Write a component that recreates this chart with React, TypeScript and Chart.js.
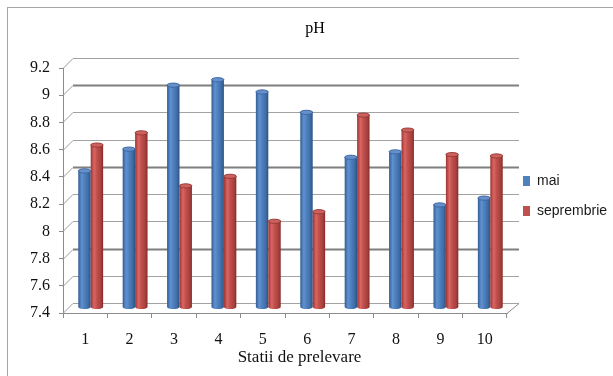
import React, { useEffect, useRef } from 'react';
import { Chart, registerables } from 'chart.js';

Chart.register(...registerables);

// Sampling stations and pH readings for the two campaigns
const stations = ['1', '2', '3', '4', '5', '6', '7', '8', '9', '10'];
const seriesNames = ['mai', 'seprembrie'];
const maiValues = [8.4, 8.56, 9.03, 9.07, 8.98, 8.83, 8.5, 8.54, 8.15, 8.2];
const septValues = [8.59, 8.68, 8.29, 8.36, 8.03, 8.1, 8.81, 8.7, 8.52, 8.51];
const yTicks = [7.4, 7.6, 7.8, 8, 8.2, 8.4, 8.6, 8.8, 9, 9.2];
const chartTitle = 'pH';
const xAxisTitle = 'Statii de prelevare';

// Styling
const SERIF = "'Liberation Serif', 'Times New Roman', serif";
const SANS = "'Liberation Sans', Arial, sans-serif";
const AXIS_COLOR = '#8c8c8c';
const WALL_DEPTH = { dx: 10, dy: -10 };
const BAR_DEPTH = { dx: 5.5, dy: -6 };
const strongGrid = [9, 8.4, 7.8];

const palette = {
  mai: {
    legend: '#4f81bd',
    body: ['#335d94', '#5f91d2', '#4f81bd', '#3f6ca6', '#2b5183'],
    cap: '#6690c9',
    rim: '#37619b',
  },
  sept: {
    legend: '#c0504d',
    body: ['#9a3633', '#db6663', '#c0504d', '#a9413e', '#852c29'],
    cap: '#cc615e',
    rim: '#8e3431',
  },
};

function drawCylinder(
  ctx: CanvasRenderingContext2D,
  cx: number,
  top: number,
  bottom: number,
  w: number,
  look: { body: string[]; cap: string; rim: string }
) {
  const rx = w / 2;
  const ry = Math.max(1.5, w * 0.17);
  const left = cx - rx;
  const right = cx + rx;
  const g = ctx.createLinearGradient(left, 0, right, 0);
  const stops = [0, 0.28, 0.5, 0.8, 1];
  look.body.forEach((c, i) => g.addColorStop(stops[i], c));
  ctx.beginPath();
  ctx.moveTo(left, top);
  ctx.lineTo(left, bottom);
  ctx.ellipse(cx, bottom, rx, ry, 0, Math.PI, 0, true);
  ctx.lineTo(right, top);
  ctx.ellipse(cx, top, rx, ry, 0, 0, Math.PI, true);
  ctx.closePath();
  ctx.fillStyle = g;
  ctx.fill();

  ctx.beginPath();
  ctx.ellipse(cx, top, rx, ry, 0, 0, Math.PI * 2);
  ctx.fillStyle = look.cap;
  ctx.fill();
  ctx.lineWidth = 0.8;
  ctx.strokeStyle = look.rim;
  ctx.stroke();
}

// White background and the thin outer frame
const framePlugin = {
  id: 'frame',
  beforeDraw(chart: any) {
    const { ctx, width, height } = chart;
    ctx.save();
    ctx.fillStyle = '#ffffff';
    ctx.fillRect(0, 0, width, height);
    ctx.strokeStyle = '#a6a6a6';
    ctx.lineWidth = 1;
    ctx.strokeRect(7.5, 7.5, width + 40, height + 40);
    ctx.restore();
  },
};

// Back wall gridlines, side wall diagonals and the floor edge
const wallPlugin = {
  id: 'wall',
  beforeDatasetsDraw(chart: any) {
    const { ctx, chartArea: ca, scales } = chart;
    const y = scales.y;
    ctx.save();
    yTicks.forEach((v) => {
      const py = Math.round(y.getPixelForValue(v)) + 0.5;
      const strong = strongGrid.includes(v);
      ctx.beginPath();
      ctx.moveTo(ca.left, py);
      ctx.lineTo(ca.left + WALL_DEPTH.dx, py + WALL_DEPTH.dy);
      ctx.strokeStyle = '#9c9c9c';
      ctx.lineWidth = 1;
      ctx.stroke();
      ctx.beginPath();
      ctx.moveTo(ca.left + WALL_DEPTH.dx, py + WALL_DEPTH.dy);
      ctx.lineTo(ca.right + WALL_DEPTH.dx + 2, py + WALL_DEPTH.dy);
      ctx.strokeStyle = strong ? '#7f7f7f' : '#a3a3a3';
      ctx.lineWidth = strong ? 2 : 1.2;
      ctx.stroke();
    });
    const fy = Math.round(ca.bottom) + 0.5;
    ctx.beginPath();
    ctx.moveTo(ca.right, fy);
    ctx.lineTo(ca.right + WALL_DEPTH.dx + 2, fy + WALL_DEPTH.dy);
    ctx.strokeStyle = AXIS_COLOR;
    ctx.lineWidth = 1;
    ctx.stroke();
    ctx.restore();
  },
};

// Bars are rendered as shaded cylinders at mid depth, standing on the axis minimum
const cylinderPlugin = {
  id: 'cylinders',
  beforeDatasetDraw() {
    return false;
  },
  afterDatasetsDraw(chart: any) {
    const { ctx, scales } = chart;
    const floor = scales.y.getPixelForValue(scales.y.min);
    const looks = [palette.mai, palette.sept];
    ctx.save();
    stations.forEach((_, i) => {
      chart.data.datasets.forEach((_ds: any, di: number) => {
        const bar = chart.getDatasetMeta(di).data[i];
        if (!bar) return;
        const cx = bar.x + BAR_DEPTH.dx;
        drawCylinder(ctx, cx, bar.y + BAR_DEPTH.dy, floor + BAR_DEPTH.dy, bar.width, looks[di]);
      });
    });
    ctx.restore();
  },
};

// Category axis caption
const axisTitlePlugin = {
  id: 'axisTitle',
  afterDraw(chart: any) {
    const { ctx } = chart;
    ctx.save();
    ctx.font = `17px ${SERIF}`;
    ctx.fillStyle = '#111111';
    ctx.textAlign = 'center';
    ctx.textBaseline = 'alphabetic';
    ctx.fillText(xAxisTitle, 299.5, 362);
    ctx.restore();
  },
};

export default function App() {
  const ref = useRef<HTMLCanvasElement>(null);

  useEffect(() => {
    if (!ref.current) return;
    const chart = new Chart(ref.current, {
      type: 'bar',
      data: {
        labels: stations,
        datasets: [
          {
            label: seriesNames[0],
            data: maiValues,
            backgroundColor: palette.mai.legend,
            borderWidth: 0,
          },
          {
            label: seriesNames[1],
            data: septValues,
            backgroundColor: palette.sept.legend,
            borderWidth: 0,
          },
        ],
      },
      options: {
        responsive: false,
        animation: false,
        devicePixelRatio: 1,
        layout: { padding: { left: 17, right: 0, top: 0, bottom: 0 } },
        datasets: {
          bar: { categoryPercentage: 0.56, barPercentage: 1 },
        },
        plugins: {
          title: {
            display: true,
            text: chartTitle,
            color: '#000000',
            font: { family: SERIF, size: 16, weight: 'normal' },
            padding: { top: 19.4, bottom: 29.4 },
          },
          legend: {
            position: 'right',
            maxWidth: 106,
            title: { display: true, text: '', padding: 0, font: { size: 16, lineHeight: 1 } },
            labels: {
              boxWidth: 7,
              boxHeight: 10,
              padding: 16,
              color: '#1a1a1a',
              font: { family: SANS, size: 14 },
            },
          },
          tooltip: { enabled: false },
        },
        scales: {
          x: {
            offset: true,
            grid: {
              offset: true,
              drawOnChartArea: false,
              drawTicks: true,
              tickLength: 5,
              color: AXIS_COLOR,
            },
            border: { color: AXIS_COLOR },
            ticks: {
              color: '#111111',
              font: { family: SERIF, size: 16 },
              padding: 12,
              maxRotation: 0,
            },
            afterFit: (s: any) => {
              s.height = 63;
            },
          },
          y: {
            min: 7.4,
            max: 9.2,
            afterBuildTicks: (s: any) => {
              s.ticks = yTicks.map((value) => ({ value }));
            },
            grid: {
              drawOnChartArea: false,
              drawTicks: true,
              tickLength: 4,
              color: AXIS_COLOR,
            },
            border: { color: AXIS_COLOR },
            ticks: {
              color: '#111111',
              font: { family: SERIF, size: 16 },
              padding: 9,
              callback: (v: any) => String(v),
            },
            afterFit: (s: any) => {
              s.width = 46;
            },
          },
        },
      },
      plugins: [framePlugin, wallPlugin, cylinderPlugin, axisTitlePlugin],
    } as any);
    return () => chart.destroy();
  }, []);

  return (
    <div style={{ position: 'absolute', left: 0, top: 0, width: 613, height: 376, background: '#ffffff' }}>
      <canvas ref={ref} width={613} height={376} style={{ display: 'block' }} />
    </div>
  );
}
